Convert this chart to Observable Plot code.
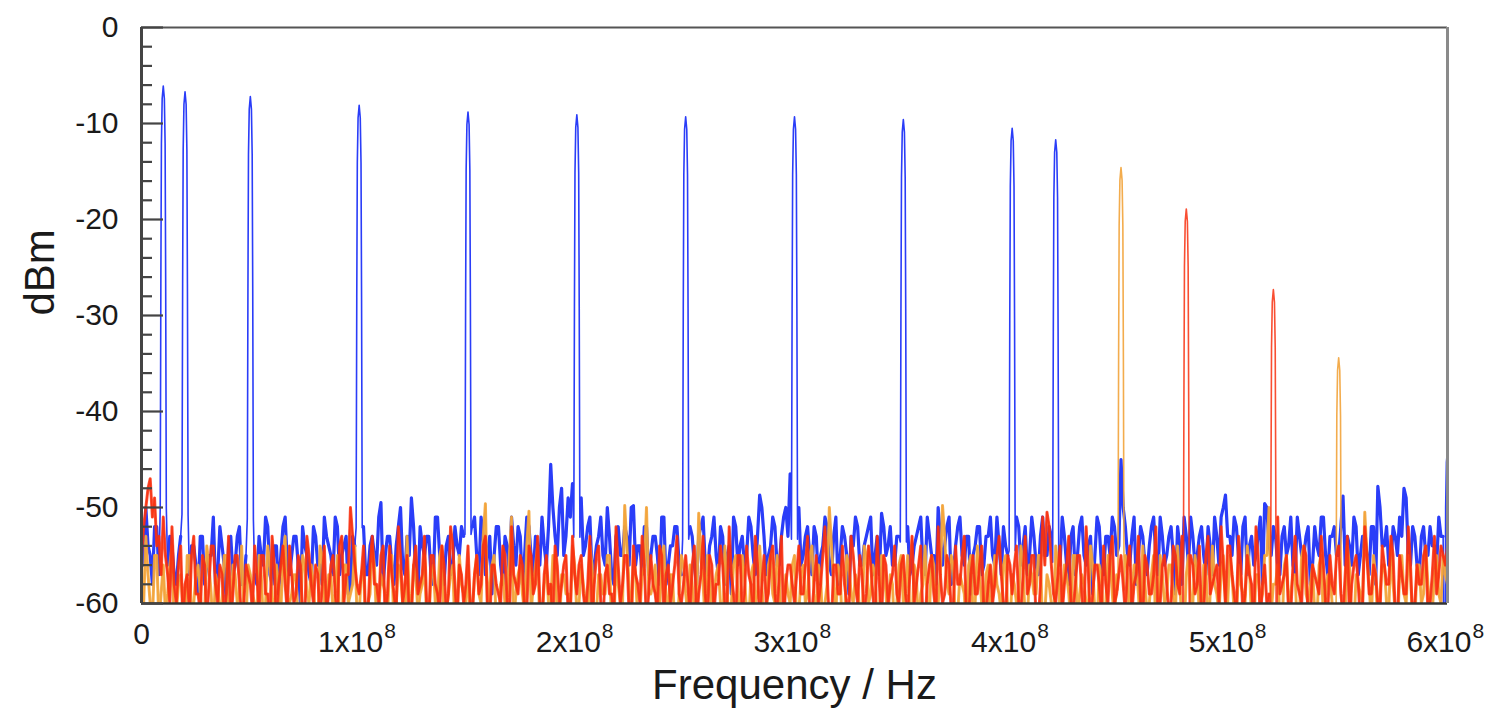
<!DOCTYPE html>
<html><head><meta charset="utf-8">
<script src="https://cdn.jsdelivr.net/npm/d3@7"></script>
<script src="https://cdn.jsdelivr.net/npm/@observablehq/plot@0.6"></script>
<style>body{margin:0;background:#fff;font-family:"Liberation Sans",Arial,sans-serif}</style>
</head><body><div id="chart"></div>
<script>
// Noise floor samples (dBm): "Even" at 0,2,4,...,600 MHz; "Odd" at 1,3,...,599 MHz
const blueEven = [
-53,-50,-55,-52,-57,-53,-56,-54,-58,-53,-55,-57,-54,-59,-53,-56,-55,-58,-52,-56,-54,-57,-53,-58,-55,
-54,-57,-53,-56,-52,-58,-54,-55,-51,-57,-53,-56,-52,-55,-58,-53,-56,-51,-54,-57,-52,-55,-53,-58,-54,
-55,-52,-57,-53,-56,-49.5,-55,-53,-58,-52,-56,-53,-49,-57,-52,-55,-53,-58,-51,-56,-54,-57,-52,-55,-53,
-56,-52,-55,-51,-57,-53,-55,-52,-58,-54,-51,-56,-53,-55,-52,-57,-54,-51,-56,-45.5,-53,-50,-55,-49,-47.5,
-52,-49,-54,-51,-56,-53,-55,-50,-57,-53,-55,-52,-56,-49.8,-54,-57,-52,-55,-53,-58,-51,-56,-54,-52,-57,
-54,-52,-56,-53,-51,-57,-53,-55,-52,-58,-54,-51,-56,-53,-55,-52,-57,-48.7,-53,-55,-51,-56,-53,-50,-46.5,
-53,-50,-55,-52,-57,-53,-55,-51,-56,-53,-58,-52,-55,-53,-51,-56,-54,-52,-57,-53,-50.6,-55,-52,-56,-53,
-55,-52,-56,-53,-51,-57,-53,-55,-50,-56,-52,-58,-54,-51,-56,-53,-55,-52,-57,-53,-51,-56,-54,-52,-55,
-53,-51,-56,-52,-55,-53,-57,-51,-55,-53,-52,-56,-53,-58,-52,-55,-51,-56,-53,-55,-52,-57,-53,-51,-55,
-45,-52,-56,-51,-55,-53,-57,-52,-55,-51,-56,-53,-55,-52,-58,-53,-51,-56,-53,-55,-52,-57,-53,-51,-48.7,
-53,-51,-55,-52,-57,-53,-55,-51,-49.6,-54,-52,-56,-53,-55,-51,-57,-53,-55,-52,-56,-54,-51,-55,-53,-52,
-55,-48.8,-53,-56,-52,-55,-53,-57,-52,-47.8,-54,-52,-56,-53,-51,-48,-55,-52,-56,-53,-55,-52,-54,-51,-53,
-52];
const blueOdd = [
-56,-54,-58,-52,-55,-60,-53,-57,-55,-52,-59,-54,-56,-53,-58,-55,-51,-57,-54,-60,-53,-56,-52,-58,-55,
-53,-58,-55,-51,-57,-54,-59,-52,-56,-55,-53,-60,-54,-57,-52,-56,-58,-53,-55,-51,-57,-54,-59,-53,-56,
-52,-57,-54,-55,-51,-58,-53,-56,-54,-50,-57,-55,-52,-59,-54,-53,-57,-51,-55,-58,-53,-56,-54,-52,-57,
-54,-51,-57,-53,-55,-59,-52,-56,-53,-57,-54,-52,-58,-51,-55,-53,-56,-54,-52,-50,-55,-48,-53,-51,-52,
-51,-55,-52,-57,-54,-51,-56,-53,-58,-52,-55,-53,-50,-56,-54,-52,-57,-53,-55,-51,-58,-54,-52,-56,-53,
-55,-53,-58,-52,-56,-54,-51,-57,-53,-55,-59,-52,-54,-56,-51,-55,-53,-50,-57,-54,-52,-56,-51,-53,-49,
-51,-56,-53,-55,-52,-58,-54,-52,-57,-51,-55,-53,-59,-54,-52,-56,-53,-51,-55,-57,-52,-54,-56,-53,-55,
-53,-57,-54,-52,-56,-51,-55,-58,-53,-54,-51,-57,-52,-55,-53,-59,-54,-52,-56,-53,-55,-51,-57,-54,-53,
-55,-52,-54,-57,-51,-56,-53,-55,-52,-58,-54,-51,-56,-53,-57,-52,-55,-54,-59,-51,-56,-53,-55,-52,-54,
-50,-55,-53,-58,-52,-56,-54,-51,-57,-53,-55,-52,-59,-54,-51,-56,-53,-55,-52,-57,-54,-51,-56,-50,-53,
-55,-52,-57,-51,-54,-56,-53,-58,-50,-55,-53,-57,-52,-54,-56,-51,-55,-53,-58,-52,-55,-51,-57,-53,-55,
-52,-56,-54,-51,-57,-53,-55,-52,-58,-50,-54,-56,-52,-55,-53,-49,-56,-53,-57,-52,-55,-54,-56,-53,-55];
const redEven = [
-55,-50,-47,-49,-53,-51,-57,-52,-60,-54,-58,-61,-53,-59,-55,-62,-54,-58,-56,-61,-53,-59,-55,-62,-56,
-58,-54,-61,-55,-59,-53,-62,-56,-58,-54,-60,-55,-61,-53,-58,-56,-62,-54,-59,-55,-61,-53,-57,-50,-56,
-59,-54,-61,-53,-58,-55,-62,-54,-59,-52,-60,-55,-61,-54,-58,-53,-62,-55,-59,-54,-61,-52,-58,-56,-60,
-54,-61,-55,-58,-53,-62,-56,-59,-54,-60,-52,-58,-55,-61,-54,-59,-53,-62,-55,-58,-54,-60,-56,-61,-53,
-59,-55,-61,-53,-58,-54,-62,-56,-59,-52,-60,-55,-61,-54,-58,-53,-62,-55,-59,-54,-61,-56,-58,-53,-60,
-55,-61,-54,-59,-53,-62,-56,-58,-54,-60,-52,-59,-55,-61,-54,-58,-53,-62,-55,-59,-54,-61,-53,-58,-56,
-60,-54,-59,-53,-61,-55,-58,-52,-62,-56,-59,-54,-60,-53,-58,-55,-61,-54,-59,-53,-62,-56,-58,-54,-60,
-55,-61,-53,-58,-54,-62,-56,-59,-52,-60,-55,-61,-54,-58,-53,-62,-55,-59,-54,-61,-56,-58,-53,-60,-55,
-59,-54,-61,-53,-58,-55,-62,-51,-50.5,-56,-60,-54,-58,-53,-61,-55,-59,-52,-62,-56,-58,-54,-60,-53,-59,
-55,-61,-54,-58,-53,-62,-56,-59,-52,-60,-55,-61,-54,-58,-53,-62,-55,-59,-54,-61,-53,-58,-56,-52,-60,
-54,-59,-53,-61,-55,-58,-52,-62,-56,-59,-54,-51,-58,-55,-61,-53,-59,-54,-62,-56,-58,-53,-60,-55,-59,
-54,-61,-53,-58,-55,-62,-52,-59,-56,-60,-54,-58,-53,-61,-55,-59,-52,-62,-56,-58,-54,-60,-53,-57,-55,
-54];
const redOdd = [
-52,-48,-51,-54,-57,-55,-60,-58,-56,-62,-57,-55,-59,-61,-56,-58,-54,-60,-57,-59,-62,-55,-58,-60,-57,
-61,-57,-55,-59,-62,-56,-58,-54,-61,-57,-59,-56,-62,-55,-60,-57,-58,-61,-56,-59,-54,-60,-57,-53,-58,
-57,-62,-56,-58,-60,-54,-59,-57,-61,-55,-58,-62,-56,-59,-57,-60,-55,-58,-61,-56,-59,-54,-62,-57,-58,
-60,-57,-59,-54,-61,-56,-58,-60,-55,-62,-57,-59,-56,-61,-55,-58,-60,-57,-59,-62,-56,-58,-55,-61,-57,
-56,-59,-58,-62,-55,-60,-57,-59,-61,-56,-58,-55,-62,-57,-60,-56,-59,-58,-61,-55,-57,-60,-56,-59,-58,
-58,-56,-62,-57,-59,-55,-61,-58,-56,-60,-57,-62,-55,-59,-57,-61,-56,-58,-60,-55,-59,-57,-62,-56,-58,
-57,-59,-56,-61,-58,-60,-55,-57,-62,-56,-59,-58,-61,-55,-60,-57,-59,-56,-62,-58,-55,-60,-57,-59,-56,
-59,-57,-60,-56,-62,-58,-55,-61,-57,-59,-56,-60,-58,-55,-62,-57,-59,-56,-61,-58,-60,-55,-57,-62,-56,
-56,-60,-57,-59,-55,-62,-58,-56,-52,-59,-57,-61,-56,-60,-58,-55,-62,-57,-59,-56,-61,-58,-55,-60,-57,
-58,-56,-61,-57,-60,-55,-59,-57,-62,-56,-58,-60,-55,-59,-57,-61,-56,-58,-62,-55,-59,-57,-60,-56,-54,
-57,-61,-56,-59,-57,-62,-55,-58,-60,-56,-53,-59,-57,-61,-56,-58,-60,-55,-62,-57,-59,-56,-61,-58,-55,
-59,-57,-62,-56,-58,-60,-55,-59,-57,-61,-56,-58,-55,-62,-57,-59,-56,-60,-58,-55,-61,-57,-59,-54,-56];
const orangeEven = [
-58,-53,-60,-55,-62,-56,-59,-54,-61,-57,-63,-55,-60,-56,-62,-54,-59,-57,-61,-55,-63,-56,-60,-54,-62,
-57,-60,-55,-62,-54,-59,-56,-61,-53,-60,-57,-63,-55,-59,-56,-62,-54,-60,-57,-61,-55,-63,-56,-59,-54,
-61,-56,-60,-54,-62,-57,-59,-55,-63,-56,-60,-53,-61,-57,-59,-55,-62,-56,-60,-54,-61,-57,-63,-55,-59,
-56,-61,-55,-60,-49.6,-58,-55,-62,-57,-60,-51,-59,-56,-61,-50.4,-58,-54,-62,-56,-60,-55,-63,-57,-59,-54,
-61,-56,-60,-54,-62,-57,-59,-55,-63,-56,-60,-49.8,-58,-55,-62,-57,-50,-59,-56,-61,-54,-60,-57,-63,-55,
-59,-56,-61,-50.6,-58,-55,-62,-57,-60,-54,-63,-56,-59,-55,-61,-57,-60,-54,-62,-56,-59,-55,-63,-57,-60,
-55,-61,-56,-59,-54,-62,-57,-60,-50,-58,-56,-63,-55,-59,-57,-61,-54,-60,-56,-62,-55,-59,-57,-63,-56,
-60,-55,-62,-57,-59,-54,-61,-56,-60,-49.8,-58,-55,-63,-57,-59,-56,-61,-54,-60,-57,-62,-55,-59,-56,-61,
-57,-60,-54,-62,-56,-59,-55,-63,-57,-60,-54,-61,-56,-59,-55,-62,-57,-60,-54,-61,-56,-63,-55,-59,-57,
-60,-55,-62,-56,-59,-54,-61,-57,-63,-55,-60,-56,-59,-54,-62,-57,-60,-55,-61,-56,-63,-54,-59,-57,-60,
-55,-61,-56,-59,-54,-62,-57,-60,-55,-50,-58,-56,-63,-55,-59,-57,-61,-54,-60,-56,-62,-55,-59,-57,-61,
-56,-60,-54,-62,-57,-59,-50.5,-58,-55,-63,-56,-60,-54,-61,-57,-59,-55,-62,-56,-60,-54,-61,-57,-59,-55,
-58];
const orangeOdd = [
-60,-57,-62,-55,-59,-61,-56,-63,-58,-60,-55,-62,-57,-59,-61,-56,-63,-58,-60,-55,-62,-57,-59,-61,-56,
-59,-62,-57,-60,-56,-63,-58,-55,-61,-59,-57,-62,-56,-60,-58,-63,-55,-61,-57,-59,-62,-56,-60,-58,-61,
-57,-63,-59,-56,-61,-58,-62,-55,-60,-57,-63,-59,-56,-61,-58,-62,-57,-60,-55,-63,-59,-56,-61,-58,-60,
-62,-57,-59,-53,-61,-56,-63,-58,-60,-55,-62,-57,-59,-54,-61,-56,-63,-58,-60,-55,-62,-57,-59,-61,-56,
-60,-58,-63,-56,-61,-57,-59,-55,-62,-58,-60,-54,-63,-57,-61,-56,-59,-58,-62,-55,-60,-57,-63,-59,-56,
-61,-58,-60,-55,-62,-57,-59,-56,-63,-58,-60,-55,-61,-57,-62,-56,-59,-58,-63,-55,-60,-57,-61,-59,-56,
-62,-57,-60,-55,-59,-56,-63,-58,-54,-61,-57,-62,-56,-60,-58,-63,-55,-59,-57,-61,-56,-62,-58,-60,-55,
-59,-61,-56,-63,-58,-60,-55,-62,-57,-53,-59,-56,-61,-58,-63,-55,-60,-57,-62,-56,-59,-58,-61,-55,-63,
-58,-60,-56,-62,-57,-59,-55,-61,-58,-63,-56,-60,-57,-62,-55,-59,-58,-61,-56,-63,-57,-60,-55,-62,-58,
-61,-57,-59,-56,-63,-58,-60,-55,-62,-57,-59,-56,-61,-58,-63,-55,-60,-57,-62,-56,-59,-58,-61,-55,-60,
-57,-62,-58,-60,-56,-63,-57,-59,-55,-61,-58,-62,-56,-60,-57,-63,-55,-59,-58,-61,-56,-62,-57,-60,-55,
-59,-61,-56,-63,-58,-60,-55,-62,-57,-59,-56,-61,-58,-63,-55,-60,-57,-62,-56,-59,-58,-61,-55,-60,-57];

// Tones (MHz, peak dBm)
const bluePeakMHz = [10, 20, 50, 100, 150, 200, 250, 300, 350, 400, 420, 600];
const bluePeakDb  = [-6.1, -6.7, -7.2, -8.1, -8.8, -9.1, -9.3, -9.3, -9.6, -10.5, -11.7, -44];
const orangePeakMHz = [450, 550];
const orangePeakDb  = [-14.6, -34.4];
const redPeakMHz = [480, 520];
const redPeakDb  = [-18.9, -27.3];
// Shape of a tone: offset (MHz) and drop below peak (dB)
const peakOffsetMHz = [-1.4, -1.1, -0.85, -0.5, 0, 0.5, 0.85, 1.1, 1.4];
const peakDropDb    = [-44, -20, -6, -1.3, 0, -1.3, -6, -20, -44];

const yMajor = [0, -10, -20, -30, -40, -50, -60];
const yMinor = [-2,-4,-6,-8,-12,-14,-16,-18,-22,-24,-26,-28,-32,-34,-36,-38,-42,-44,-46,-48,-52,-54,-56,-58];
const xTicks = [1e8, 2e8, 3e8, 4e8, 5e8, 6e8];
const xMant  = ["1x10","2x10","3x10","4x10","5x10","6x10"];
const xExp   = ["8","8","8","8","8","8"];

function isPeak(f, pkF) { return pkF.some(p => Math.abs(p - f) < 1.5); }
function samples(even, odd) {
  const s = [];
  even.forEach((v, i) => {
    s.push([2 * i, v]);
    if (i < odd.length) s.push([2 * i + 1, odd[i]]);
  });
  return s;
}
function build(even, odd, pkF, pkDb) {
  const pts = samples(even, odd).filter(([f]) => !isPeak(f, pkF)).map(([f, v]) => ({f: f * 1e6, db: v}));
  pkF.forEach((p, j) => peakOffsetMHz.forEach((o, k) => {
    pts.push({f: (p + o) * 1e6, db: pkDb[j] + peakDropDb[k]});
  }));
  pts.sort((a, b) => a.f - b.f);
  return pts;
}
// noise-only copy, broken (NaN) where a tone sits
function floor(even, odd, pkF) {
  return samples(even, odd).map(([f, v]) => ({f: f * 1e6, db: isPeak(f, pkF) ? NaN : v}));
}
const blue = build(blueEven, blueOdd, bluePeakMHz, bluePeakDb);
const orange = build(orangeEven, orangeOdd, orangePeakMHz, orangePeakDb);
const red = build(redEven, redOdd, redPeakMHz, redPeakDb);
const blueF = floor(blueEven, blueOdd, bluePeakMHz);
const orangeF = floor(orangeEven, orangeOdd, orangePeakMHz);
const redF = floor(redEven, redOdd, redPeakMHz);

const cBlue = "#2a3df8", cOrange = "#f2a33a", cRed = "#f8300f";
const pxToF = 6e8 / 1306;
const txt = "#1a1a1a";
const plot = Plot.plot({
  width: 1496, height: 723,
  marginLeft: 141, marginRight: 49, marginTop: 27, marginBottom: 120,
  style: {fontFamily: '"Liberation Sans", Arial, sans-serif', background: "#fff"},
  x: {domain: [0, 6e8], axis: null},
  y: {domain: [-60, 0], axis: null},
  marks: [
    Plot.line(blue, {x: "f", y: "db", stroke: cBlue, strokeWidth: 1.6, clip: true}),
    Plot.line(blueF, {x: "f", y: "db", stroke: cBlue, strokeWidth: 3.2, clip: true}),
    Plot.line(orange, {x: "f", y: "db", stroke: cOrange, strokeWidth: 1.6, strokeOpacity: 0.9, clip: true}),
    Plot.line(orangeF, {x: "f", y: "db", stroke: cOrange, strokeWidth: 3, strokeOpacity: 0.85, clip: true}),
    Plot.line(redF, {x: "f", y: "db", stroke: cRed, strokeWidth: 3, strokeOpacity: 0.8, clip: true}),
    Plot.line(red, {x: "f", y: "db", stroke: cRed, strokeWidth: 1.6, strokeOpacity: 0.85, clip: true}),
    Plot.ruleY([0], {stroke: "#555", strokeWidth: 2}),
    Plot.ruleY([-60], {stroke: "#333", strokeWidth: 2.5}),
    Plot.ruleX([6e8], {stroke: "#8a8a8a", strokeWidth: 3}),
    Plot.ruleX([0], {stroke: "#444", strokeWidth: 3}),
    Plot.ruleY(yMajor, {x1: 0, x2: 22 * pxToF, stroke: "#444", strokeWidth: 2.2}),
    Plot.ruleY(yMinor, {x1: 0, x2: 11 * pxToF, stroke: "#444", strokeWidth: 2.2}),
    Plot.text(yMajor, {y: d => d, text: d => String(d), frameAnchor: "left", textAnchor: "end", dx: -23, fontSize: 30, fill: txt}),
    Plot.text([0], {x: d => d, text: ["0"], frameAnchor: "bottom", dy: 40, fontSize: 30, fill: txt}),
    Plot.text(xTicks, {x: d => d, text: xMant, frameAnchor: "bottom", textAnchor: "end", dx: 24, dy: 48, fontSize: 30, fill: txt}),
    Plot.text(xTicks, {x: d => d, text: xExp, frameAnchor: "bottom", textAnchor: "start", dx: 25, dy: 34, fontSize: 21, fill: txt}),
    Plot.text(["Frequency / Hz"], {frameAnchor: "bottom", dy: 95, fontSize: 42, fill: txt}),
    Plot.text(["dBm"], {frameAnchor: "left", dx: -101, rotate: -90, fontSize: 42, fill: txt})
  ]
});
document.getElementById("chart").appendChild(plot);
</script>
</body></html>
